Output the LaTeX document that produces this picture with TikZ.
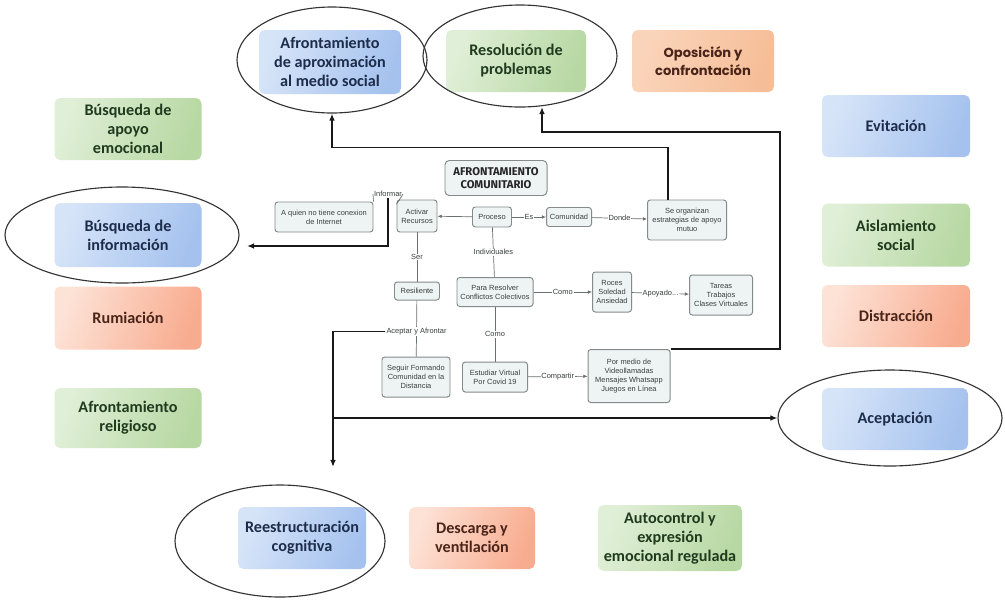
\documentclass[tikz,border=0pt]{standalone}
\usepackage{fontspec}
\setmainfont{Carlito}
\newfontfamily\gothfont{Poppins}
\newfontfamily\mapfont{Liberation Sans}
\newfontfamily\headfont{Fira Sans}
\usetikzlibrary{arrows.meta,shapes.geometric}

\definecolor{bluehi}{HTML}{D6E4F8}
\definecolor{bluelo}{HTML}{A5C2EE}
\definecolor{greenhi}{HTML}{E0EFD7}
\definecolor{greenlo}{HTML}{B7D8A3}
\definecolor{orangehi}{HTML}{FDE2D6}
\definecolor{orangelo}{HTML}{F8AC8F}
\definecolor{peachhi}{HTML}{FAD4BA}
\definecolor{peachlo}{HTML}{F6BE98}
\definecolor{bluetxt}{HTML}{1C2C4A}
\definecolor{greentxt}{HTML}{1F3A1D}
\definecolor{orangetxt}{HTML}{4A2418}
\definecolor{mapfill}{HTML}{EEF3F3}
\definecolor{mapline}{HTML}{858B8B}
\definecolor{maptxt}{HTML}{3A3F3F}

\newcommand\pxu{0.025cm}

\tikzset{
  card/.style 2 args={rounded corners=4pt, align=center, inner sep=0pt,
    minimum width=#1*\pxu, minimum height=#2*\pxu,
    font=\fontsize{11.5}{13.5}\selectfont\bfseries},
  bluecard/.style={left color=bluehi, right color=bluelo, shading angle=70, text=bluetxt},
  greencard/.style={left color=greenhi, right color=greenlo, shading angle=70, text=greentxt},
  orangecard/.style={left color=orangehi, right color=orangelo, shading angle=70, text=orangetxt},
  peachcard/.style={left color=peachhi, right color=peachlo, shading angle=70, text=orangetxt},
  oval/.style 2 args={ellipse, draw=black!80, line width=0.8pt, inner sep=0pt,
    minimum width=#1*\pxu, minimum height=#2*\pxu},
  mbox/.style 2 args={draw=mapline, fill=mapfill, rounded corners=2pt, line width=0.7pt,
    align=center, inner sep=0.5pt, minimum width=#1*\pxu, minimum height=#2*\pxu,
    font=\mapfont\fontsize{5.3}{6.3}\selectfont, text=maptxt},
  lbl/.style={fill=white, inner sep=0.6pt, font=\mapfont\fontsize{5.3}{6}\selectfont, text=maptxt},
  lnk/.style={draw=mapline!80!black, line width=0.5pt},
  lnkA/.style={lnk, -{Latex[length=3pt,width=2.6pt]}},
  big/.style={draw=black!90, line width=1pt, -{Latex[length=5pt,width=4pt]}},
}

\begin{document}
\begin{tikzpicture}[x=0.025cm, y=-0.025cm]
\fill[white] (0,0) rectangle (1005,600);
\useasboundingbox (0,0) rectangle (1005,600);

% coloured coping-strategy cards
\node[card={142}{64}, bluecard] (aprox) at (330,62) {Afrontamiento\\de aproximación\\al medio social};
\node[card={140}{62}, greencard] (resol) at (516,61) {Resolución de\\problemas};
\node[card={142}{62}, peachcard, font=\gothfont\bfseries\fontsize{9.3}{13}\selectfont] (opos) at (703,61) {Oposición y\\confrontación};

\node[card={147}{62}, greencard] (apoyo) at (128,129) {Búsqueda de\\apoyo\\emocional};
\node[card={147}{64}, bluecard] (info) at (128,235) {Búsqueda de\\información};
\node[card={147}{63}, orangecard] (rumia) at (128,318) {Rumiación};
\node[card={147}{60}, greencard] (relig) at (128,418) {Afrontamiento\\religioso};

\node[card={148}{62}, bluecard] (evita) at (896,126) {Evitación};
\node[card={148}{63}, greencard] (aisla) at (896,235) {Aislamiento\\social};
\node[card={148}{62}, orangecard] (distra) at (896,316) {Distracción};
\node[card={146}{62}, bluecard] (acep) at (895,419) {Aceptación};

\node[card={128}{62}, bluecard] (reest) at (302,538) {Reestructuración\\cognitiva};
\node[card={126}{62}, orangecard] (desc) at (472,538) {Descarga y\\ventilación};
\node[card={144}{66}, greencard] (autoc) at (670,538) {Autocontrol y\\expresión\\emocional regulada};

% rings around the selected strategies
\node[oval={190}{106}] (e1) at (332,60) {};
\node[oval={194}{102}] (e2) at (520,56) {};
\node[oval={234}{96}] (e3) at (122,235) {};
\node[oval={224}{96}] (e4) at (890,418) {};
\node[oval={210}{112}] (e5) at (280,541) {};

% concept map
\node[mbox={102}{35}, font=\headfont\bfseries\fontsize{8}{9.5}\selectfont, text=black!85, rounded corners=3pt] (head) at (496,178) {AFRONTAMIENTO\\COMUNITARIO};
\node[mbox={98}{30}] (quien) at (324,217) {A quien no tiene conexion\\de Internet};
\node[mbox={40}{32}] (activar) at (417,216) {Activar\\Recursos};
\node[mbox={39}{20}] (proceso) at (492,217) {Proceso};
\node[mbox={45}{19}] (comunidad) at (569,217) {Comunidad};
\node[mbox={79}{40}] (organizan) at (687,220) {Se organizan\\estrategias de apoyo\\mutuo};
\node[mbox={45}{18}] (resiliente) at (417,291) {Resiliente};
\node[mbox={76}{29}] (resolver) at (495,292) {Para Resolver\\Conflictos Colectivos};
\node[mbox={39}{40}] (roces) at (612,292) {Roces\\Soledad\\Ansiedad};
\node[mbox={63}{40}] (tareas) at (721,295) {Tareas\\Trabajos\\Clases Virtuales};
\node[mbox={68}{40}] (seguir) at (416,377) {Seguir Formando\\Comunidad en la\\Distancia};
\node[mbox={65}{30}] (estudiar) at (495,377) {Estudiar Virtual\\Por Covid 19};
\node[mbox={82}{53}] (medio) at (629,376) {Por medio de\\Videollamadas\\Mensajes Whatsapp\\Juegos en Línea};

\node[lbl] (inf) at (388,194) {Informar};
\draw[lnk] (activar.150) -- (inf.east);
\draw[lnk] (inf.west) -- (quien.north east);

\draw[lnkA] (proceso) -- (activar);
\draw[lnkA] (proceso) -- node[lbl]{Es} (comunidad);
\draw[lnkA] (comunidad) -- node[lbl]{Donde} (organizan);
\draw[lnk] (proceso) -- node[lbl]{Individuales} (resolver);
\draw[lnkA] (resolver) -- node[lbl]{Como} (roces);
\draw[lnkA] (roces) -- node[lbl]{Apoyado...} (tareas);
\draw[lnk] (resolver) -- node[lbl]{Como} (estudiar);
\draw[lnkA] (estudiar) -- node[lbl]{Compartir} (medio);
\draw[lnk] (activar) -- node[lbl]{Ser} (resiliente);
\draw[lnk] (resiliente) -- node[lbl, pos=0.55] (aa) {Aceptar y Afrontar} (seguir);

% links from the map to the strategies
\coordinate (itip) at (247,246);
\coordinate (rturn) at (780,132);
\coordinate (rtip) at (542,107);
\coordinate (dtip) at (333,467);
\coordinate (jn) at (333,418);

\draw[big] (inf.south) |- (itip);
\draw[big] ([xshift=-19*\pxu]organizan.north) -- ++(0,-52) -| (e1.south);
\draw[big] (medio.north east) -| (rturn) -| (rtip);
\draw[big] (aa.west) -| (dtip);
\draw[big] (jn) -- (e4.west);
\end{tikzpicture}
\end{document}
